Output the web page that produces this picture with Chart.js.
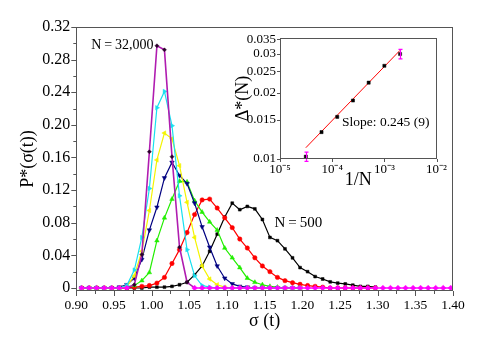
<!DOCTYPE html>
<html>
<head>
<meta charset="utf-8">
<script src="https://cdn.jsdelivr.net/npm/chart.js@4.4.1/dist/chart.umd.min.js"></script>
<style>
  html, body { margin: 0; padding: 0; background: #fff; }
  #wrap { position: relative; width: 498px; height: 352px; }
  #mainChart { position: absolute; left: 0; top: 0; }
  #insetChart { position: absolute; left: 220px; top: 20px; }
</style>
</head>
<body>
<div id="wrap">
  <canvas id="mainChart" width="498" height="352"></canvas>
  <canvas id="insetChart" width="230" height="180"></canvas>
</div>
<script>
// ---- main panel: P*(sigma) histograms ----
const sigma = [0.907, 0.917, 0.927, 0.937, 0.947, 0.957, 0.967, 0.977, 0.987, 0.997,
               1.007, 1.017, 1.027, 1.037, 1.047, 1.057, 1.067, 1.077, 1.087, 1.097,
               1.107, 1.117, 1.127, 1.137, 1.147, 1.157, 1.167, 1.177, 1.187, 1.197,
               1.207, 1.217, 1.227, 1.237, 1.247, 1.257, 1.267, 1.277, 1.287, 1.297,
               1.307, 1.317, 1.327, 1.337, 1.347, 1.357, 1.367, 1.377, 1.387, 1.397];

const pN32000 = [0, 0, 0, 0, 0, 0, 0, 0.004, 0.041, 0.167,
                 0.297, 0.292, 0.161, 0.050, 0.007, 0, 0, 0, 0, 0,
                 0, 0, 0, 0, 0, 0, 0, 0, 0, 0,
                 0, 0, 0, 0, 0, 0, 0, 0, 0, 0,
                 0, 0, 0, 0, 0, 0, 0, 0, 0, 0];
const pN16000 = [0, 0, 0, 0, 0, 0, 0.003, 0.022, 0.062, 0.122,
                 0.221, 0.241, 0.199, 0.113, 0.047, 0.015, 0.003, 0.001, 0, 0,
                 0, 0, 0, 0, 0, 0, 0, 0, 0, 0];
const pN8000 = [0, 0, 0, 0, 0, 0, 0.002, 0.015, 0.045, 0.095,
                0.157, 0.190, 0.183, 0.150, 0.105, 0.062, 0.027, 0.011, 0.004, 0.001,
                0, 0, 0, 0, 0, 0, 0, 0, 0, 0];
const pN4000 = [0, 0, 0, 0, 0, 0.001, 0.004, 0.012, 0.035, 0.071,
                0.099, 0.135, 0.154, 0.138, 0.128, 0.104, 0.075, 0.050, 0.027, 0.012,
                0.005, 0.002, 0.001, 0, 0, 0, 0, 0, 0, 0];
const pN2000 = [0, 0, 0, 0, 0, 0, 0.001, 0.003, 0.009, 0.019,
                0.058, 0.086, 0.109, 0.131, 0.130, 0.107, 0.093, 0.081, 0.071, 0.049,
                0.037, 0.025, 0.012, 0.007, 0.004, 0.002, 0.001, 0, 0, 0];
const pN1000 = [0, 0, 0, 0, 0, 0, 0, 0.001, 0.002, 0.003,
                0.006, 0.013, 0.030, 0.047, 0.068, 0.090, 0.108, 0.109, 0.098, 0.086,
                0.074, 0.060, 0.049, 0.037, 0.027, 0.020, 0.013, 0.009, 0.0065, 0.0045,
                0.003, 0.002, 0.001, 0, 0, 0, 0, 0, 0, 0];
const pN500 = [0, 0, 0, 0, 0, 0, 0, 0, 0, 0.001,
               0.001, 0.001, 0.002, 0.004, 0.007, 0.016, 0.027, 0.045, 0.066, 0.087,
               0.104, 0.096, 0.100, 0.097, 0.084, 0.062, 0.058, 0.048, 0.037, 0.025,
               0.020, 0.014, 0.011, 0.0075, 0.006, 0.005, 0.0035, 0.002, 0.002, 0.001];

const xTicks = [0.90, 0.95, 1.00, 1.05, 1.10, 1.15, 1.20, 1.25, 1.30, 1.35, 1.40];
const xMinorTicks = [0.925, 0.975, 1.025, 1.075, 1.125, 1.175, 1.225, 1.275, 1.325, 1.375];
const yTicks = [0, 0.04, 0.08, 0.12, 0.16, 0.20, 0.24, 0.28, 0.32];
const yTickLabels = ['0', '0.04', '0.08', '0.12', '0.16', '0.20', '0.24', '0.28', '0.32'];
const yMinorTicks = [0.02, 0.06, 0.10, 0.14, 0.18, 0.22, 0.26, 0.30];

// ---- inset: Delta*(N) vs 1/N ----
const invN = [3.125e-5, 6.25e-5, 1.25e-4, 2.5e-4, 5e-4, 1e-3, 2e-3];
const deltaStar = [0.0102, 0.0132, 0.0155, 0.0184, 0.0222, 0.0265, 0.0300];
const deltaErr = [0.0005, 0, 0, 0, 0, 0, 0.0015];
const fitX = [3.125e-5, 2e-3];
const fitY = [0.0112, 0.0312];
const insetXTicks = [1e-5, 1e-4, 1e-3, 1e-2];
const insetXLabels = ['10\u207B\u2075', '10\u207B\u2074', '10\u207B\u00B3', '10\u207B\u00B2'];
const insetYTicks = [0.01, 0.015, 0.02, 0.025, 0.03, 0.035];
const insetYLabels = ['0.01', '0.015', '0.02', '0.025', '0.03', '0.035'];

Chart.defaults.font.family = "'Liberation Serif', 'Times New Roman', serif";
Chart.defaults.color = '#000';

const FRAME = '#555';
const toXY = (xs, ys) => ys.map((v, i) => ({ x: xs[i], y: v }));

// box + outward tick marks, drawn from the scales
const boxTicks = {
  id: 'boxTicks',
  afterDraw(chart, args, o) {
    const { ctx, chartArea: a, scales: { x, y } } = chart;
    ctx.save();
    ctx.strokeStyle = FRAME;
    ctx.lineWidth = 1;
    ctx.strokeRect(Math.round(a.left) + 0.5, Math.round(a.top) + 0.5,
                   Math.round(a.right - a.left) - 1, Math.round(a.bottom - a.top) - 1);
    ctx.beginPath();
    const xt = (list, len) => list.forEach(v => {
      const px = Math.round(x.getPixelForValue(v)) + 0.5;
      ctx.moveTo(px, a.bottom); ctx.lineTo(px, a.bottom + len);
    });
    const yt = (list, len) => list.forEach(v => {
      const py = Math.round(y.getPixelForValue(v)) + 0.5;
      ctx.moveTo(a.left, py); ctx.lineTo(a.left - len, py);
    });
    xt(o.xMajor || [], o.major); xt(o.xMinor || [], o.minor);
    yt(o.yMajor || [], o.major); yt(o.yMinor || [], o.minor);
    ctx.stroke();
    ctx.restore();
  }
};

// free text labels placed in data coordinates
const notes = {
  id: 'notes',
  afterDraw(chart, args, o) {
    const { ctx, scales: { x, y } } = chart;
    ctx.save();
    ctx.fillStyle = '#000';
    ctx.textBaseline = 'middle';
    (o.items || []).forEach(n => {
      ctx.font = n.font;
      ctx.textAlign = n.align || 'left';
      ctx.fillText(n.text, x.getPixelForValue(n.x), y.getPixelForValue(n.y));
    });
    ctx.restore();
  }
};

const series = [
  { label: 'N = 32,000', data: pN32000, color: '#ff00ff', style: 'rectRot', rot: 0, r: 2.8 },
  { label: 'N = 16,000', data: pN16000, color: '#18e0f0', style: 'triangle', rot: 90, r: 2.6 },
  { label: 'N = 8,000', data: pN8000, color: '#f4f400', style: 'triangle', rot: 270, r: 2.6 },
  { label: 'N = 4,000', data: pN4000, color: '#000080', style: 'triangle', rot: 180, r: 2.6 },
  { label: 'N = 2,000', data: pN2000, color: '#22ee00', style: 'triangle', rot: 0, r: 2.6 },
  { label: 'N = 1,000', data: pN1000, color: '#ff0000', style: 'circle', rot: 0, r: 2.2 },
  { label: 'N = 500', data: pN500, color: '#000000', style: 'rect', rot: 0, r: 2 },
];

const mainDatasets = series.map((s, i) => {
  const ds = {
    label: s.label,
    data: toXY(sigma, s.data),
    borderColor: s.color,
    backgroundColor: s.color,
    borderWidth: 1.2,
    pointStyle: s.style,
    pointRotation: s.rot,
    pointRadius: s.r,
    pointBorderWidth: 0.5,
    tension: 0,
  };
  if (i === 0) {
    ds.borderWidth = 1.6;
    ds.segment = {
      borderColor: c => (c.p0.parsed.y > 0 || c.p1.parsed.y > 0) ? '#b01cb0' : '#ff00ff'
    };
    ds.pointRadius = c => (c.parsed && c.parsed.y > 0) ? 2 : 2.8;
    ds.pointBackgroundColor = c => (c.parsed && c.parsed.y > 0) ? '#2a002a' : '#ff00ff';
    ds.pointBorderColor = c => (c.parsed && c.parsed.y > 0) ? '#2a002a' : '#ff00ff';
  }
  return ds;
});

new Chart(document.getElementById('mainChart'), {
  type: 'line',
  data: { datasets: mainDatasets },
  options: {
    responsive: false,
    animation: false,
    layout: { padding: { top: 27, right: 45, left: 0, bottom: 0 } },
    plugins: {
      legend: { display: false },
      tooltip: { enabled: false },
      boxTicks: { major: 5, minor: 3, xMajor: xTicks, xMinor: xMinorTicks, yMajor: yTicks, yMinor: yMinorTicks },
      notes: {
        items: [
          { text: 'N\u2009=\u200932,000', x: 0.920, y: 0.297, font: "14px 'Liberation Serif'" },
          { text: 'N\u2009=\u2009500', x: 1.163, y: 0.0795, font: "15px 'Liberation Serif'" },
        ]
      }
    },
    scales: {
      x: {
        type: 'linear',
        min: 0.90, max: 1.40,
        afterBuildTicks: s => { s.ticks = xTicks.map(v => ({ value: v })); },
        afterFit: s => { s.height = 61; },
        grid: { display: false, drawTicks: false },
        border: { display: false },
        ticks: { callback: v => v.toFixed(2), font: { size: 13.5 }, padding: 6, maxRotation: 0, autoSkip: false },
        title: { display: true, text: '\u03C3 (t)', font: { size: 18 }, padding: { top: 0, bottom: 20 } }
      },
      y: {
        type: 'linear',
        min: -0.0037, max: 0.32,
        afterBuildTicks: s => { s.ticks = yTicks.map(v => ({ value: v })); },
        afterFit: s => { s.width = 76.3; },
        grid: { display: false, drawTicks: false },
        border: { display: false },
        ticks: { callback: (v, i) => yTickLabels[i], font: { size: 16 }, padding: 6, autoSkip: false },
        title: { display: true, text: 'P*(\u03C3(t))', font: { size: 18 }, padding: { top: 17, bottom: 0 } }
      }
    }
  },
  plugins: [boxTicks, notes]
});

// error bars on the inset points, from the scales
const errBars = {
  id: 'errBars',
  afterDatasetsDraw(chart) {
    const { ctx, scales: { x, y } } = chart;
    ctx.save();
    ctx.strokeStyle = '#ff00ff';
    ctx.lineWidth = 1.2;
    ctx.beginPath();
    invN.forEach((v, i) => {
      if (!deltaErr[i]) return;
      const px = Math.round(x.getPixelForValue(v)) + 0.5;
      const y1 = y.getPixelForValue(deltaStar[i] - deltaErr[i]);
      const y2 = y.getPixelForValue(deltaStar[i] + deltaErr[i]);
      ctx.moveTo(px, y1); ctx.lineTo(px, y2);
      ctx.moveTo(px - 2, y1); ctx.lineTo(px + 2, y1);
      ctx.moveTo(px - 2, y2); ctx.lineTo(px + 2, y2);
    });
    ctx.stroke();
    ctx.restore();
  }
};

new Chart(document.getElementById('insetChart'), {
  type: 'scatter',
  data: {
    datasets: [
      { data: toXY(invN, deltaStar), pointStyle: 'rect', pointRadius: 2.2,
        backgroundColor: '#000', borderColor: '#000', pointBorderWidth: 0.5, order: 1 },
      { type: 'line', data: toXY(fitX, fitY), borderColor: '#ff0000', borderWidth: 1,
        pointRadius: 0, order: 2 },
    ]
  },
  options: {
    responsive: false,
    animation: false,
    layout: { padding: { top: 18, right: 10, left: 0, bottom: 0 } },
    plugins: {
      legend: { display: false },
      tooltip: { enabled: false },
      boxTicks: { major: 3, minor: 0, xMajor: insetXTicks, yMajor: insetYTicks },
      notes: {
        items: [
          { text: 'Slope: 0.245 (9)', x: 1.55e-4, y: 0.0146, font: "13.5px 'Liberation Serif'" },
        ]
      }
    },
    scales: {
      x: {
        type: 'logarithmic',
        min: 1e-5, max: 1e-2,
        afterBuildTicks: s => { s.ticks = insetXTicks.map(v => ({ value: v })); },
        afterFit: s => { s.height = 41; },
        grid: { display: false, drawTicks: false },
        border: { display: false },
        ticks: { callback: (v, i) => insetXLabels[i], font: { size: 13 }, padding: 3, maxRotation: 0, autoSkip: false },
        title: { display: true, text: '1/N', font: { size: 18 }, padding: { top: 0, bottom: 9 } }
      },
      y: {
        type: 'logarithmic',
        min: 0.00995, max: 0.0355,
        afterBuildTicks: s => { s.ticks = insetYTicks.map(v => ({ value: v })); },
        afterFit: s => { s.width = 60; },
        grid: { display: false, drawTicks: false },
        border: { display: false },
        ticks: { callback: (v, i) => insetYLabels[i], font: { size: 13 }, padding: 4, autoSkip: false },
        title: { display: true, text: '\u0394*(N)', font: { size: 18 }, padding: { top: 12, bottom: 0 } }
      }
    }
  },
  plugins: [boxTicks, notes, errBars]
});
</script>
</body>
</html>
